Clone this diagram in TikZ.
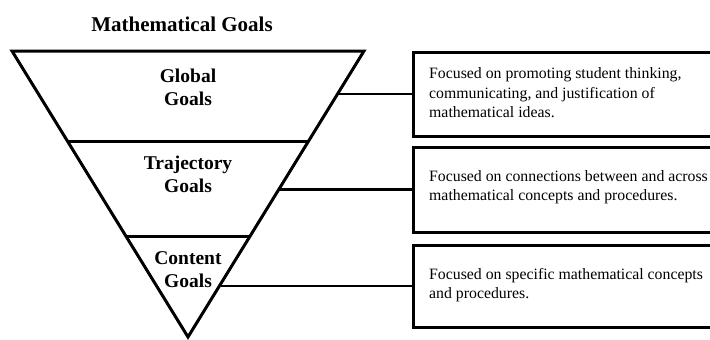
\documentclass[tikz,border=0pt]{standalone}
\usepackage{fontspec}
\setmainfont{Liberation Serif}
\tikzset{
  goalbox/.style={draw, line width=3pt, minimum width=307pt, inner sep=0pt},
  desc/.style={anchor=west, align=left, inner sep=0pt, font=\fontsize{15.8}{19.5}\selectfont},
  level/.style={align=center, inner sep=0pt, font=\bfseries\fontsize{19.5}{23}\selectfont},
  titletext/.style={inner sep=0pt, font=\bfseries\fontsize{21}{25}\selectfont},
  conn/.style={line width=2.7pt},
  tri/.style={line width=3pt, line join=miter},
}
\begin{document}
\begin{tikzpicture}[x=1pt,y=-1pt]
\clip (0,0) rectangle (710,340);
\fill[white] (0,0) rectangle (710,340);
% title
\node[titletext] (title) at (182,24) {Mathematical Goals};
% inverted triangle
\draw[tri] (12,51) -- (364,51) -- (188,337) -- cycle;
\draw[tri] (67,141) -- (309,141);
\draw[tri] (125,236) -- (251,236);
% level labels
\node[level] (global) at (188,87) {Global\\Goals};
\node[level] (traj) at (188,174) {Trajectory\\Goals};
\node[level] (content) at (188,270) {Content\\Goals};
% connection points on triangle edge
\coordinate (c1) at (338,94);
\coordinate (c2) at (280,189.5);
\coordinate (c3) at (221,286);
% boxes
\node[goalbox, minimum height=84pt] (b1) at (566.5,94) {};
\node[goalbox, minimum height=85pt] (b2) at (566.5,189.5) {};
\node[goalbox, minimum height=82pt] (b3) at (566.5,286) {};
% descriptions
\node[desc] (d1) at (429,93) {Focused on promoting student thinking,\\communicating, and justification of\\mathematical ideas.};
\node[desc] (d2) at (429,187) {Focused on connections between and across\\mathematical concepts and procedures.};
\node[desc] (d3) at (429,285) {Focused on specific mathematical concepts\\and procedures.};
% connectors
\draw[conn] (c1) -- (b1.west);
\draw[conn] (c2) -- (b2.west);
\draw[conn] (c3) -- (b3.west);
\end{tikzpicture}
\end{document}
